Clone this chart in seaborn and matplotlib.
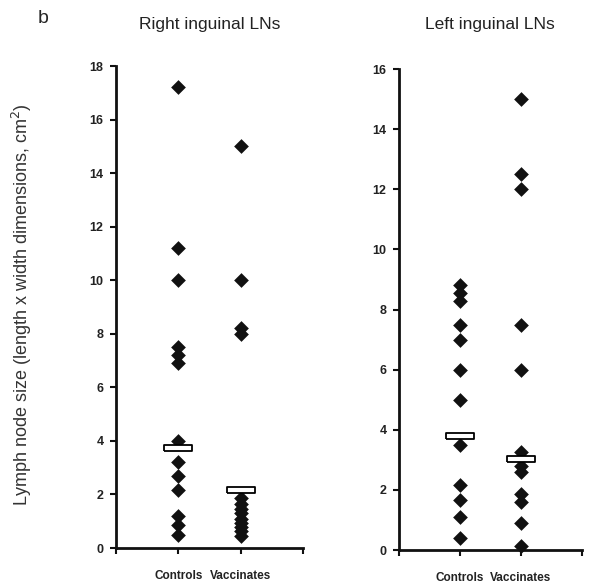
import matplotlib
matplotlib.use("Agg")
import matplotlib.pyplot as plt
from matplotlib.ticker import FixedLocator
import pandas as pd
import seaborn as sns

groups = ["Controls", "Vaccinates"]

# right inguinal lymph nodes (left panel)
right_controls = [17.2, 11.2, 10.0, 7.5, 7.2, 6.9, 4.0, 3.2, 2.7, 2.15, 1.2, 0.85, 0.5]
right_vaccinates = [15.0, 10.0, 8.2, 8.0, 1.85, 1.65, 1.45, 1.3, 1.1, 0.95, 0.8, 0.65, 0.45]
right_bars = [3.72, 2.16]

# left inguinal lymph nodes (right panel)
left_controls = [8.8, 8.55, 8.3, 7.5, 7.0, 6.0, 5.0, 3.5, 2.15, 1.65, 1.1, 0.4]
left_vaccinates = [15.0, 12.5, 12.0, 7.5, 6.0, 3.25, 2.8, 2.6, 1.85, 1.6, 0.9, 0.15]
left_bars = [3.80, 3.02]

sns.set_style("white")
plt.rcParams['font.family'] = ['Liberation Sans', 'DejaVu Sans']

bar_marker = [(-2, -0.5), (2, -0.5), (2, 0.5), (-2, 0.5), (-2, -0.5)]


def make_frame(controls, vaccinates):
    return pd.DataFrame({
        "group": ["Controls"] * len(controls) + ["Vaccinates"] * len(vaccinates),
        "size": controls + vaccinates,
    })


def draw_panel(ax, df, bars, ymax):
    sns.stripplot(data=df, x="group", y="size", order=groups, jitter=False,
                  marker="D", size=7.5, color="#111111", linewidth=0,
                  ax=ax, clip_on=False, zorder=3)
    # white bars mark the group average
    sns.stripplot(x=groups, y=bars, order=groups, jitter=False,
                  marker=bar_marker, size=20, color="white",
                  edgecolor="black", linewidth=1.3, ax=ax, zorder=4)
    ax.set_xlim(-1, 2)
    ax.set_ylim(0, ymax)
    ax.set_yticks(range(0, ymax + 1, 2))
    ax.xaxis.set_minor_locator(FixedLocator([-1, 2]))
    ax.set_xlabel("")
    ax.set_ylabel("")
    for side in ["top", "right"]:
        ax.spines[side].set_visible(False)
    for side in ["left", "bottom"]:
        ax.spines[side].set_linewidth(2)
        ax.spines[side].set_color("#111111")
    ax.tick_params(axis="both", which="both", direction="out", length=4,
                   width=1.5, color="#111111", left=True, bottom=True)
    ax.tick_params(axis="y", labelsize=9, pad=5)
    ax.tick_params(axis="x", labelsize=8.5, pad=12)
    for lab in ax.get_xticklabels() + ax.get_yticklabels():
        lab.set_fontweight("bold")
        lab.set_color("#222222")


fig = plt.figure(figsize=(6.02, 5.84), dpi=100)
ax1 = fig.add_axes([0.1927, 0.0616, 0.3106, 0.8253])
ax2 = fig.add_axes([0.6628, 0.0582, 0.3040, 0.8236])

draw_panel(ax1, make_frame(right_controls, right_vaccinates), right_bars, 18)
draw_panel(ax2, make_frame(left_controls, left_vaccinates), left_bars, 16)

fig.text(0.349, 0.958, "Right inguinal LNs", fontsize=12.5, ha="center",
         va="center", color="#222222")
fig.text(0.814, 0.958, "Left inguinal LNs", fontsize=12.5, ha="center",
         va="center", color="#222222")
fig.text(0.037, 0.478, "Lymph node size (length x width dimensions, cm$^2$)",
         rotation=90, ha="center", va="center", fontsize=13, color="#333333")
fig.text(0.062, 0.968, "b", fontsize=14, ha="left", va="center")

fig.savefig("out.png", dpi=100)
